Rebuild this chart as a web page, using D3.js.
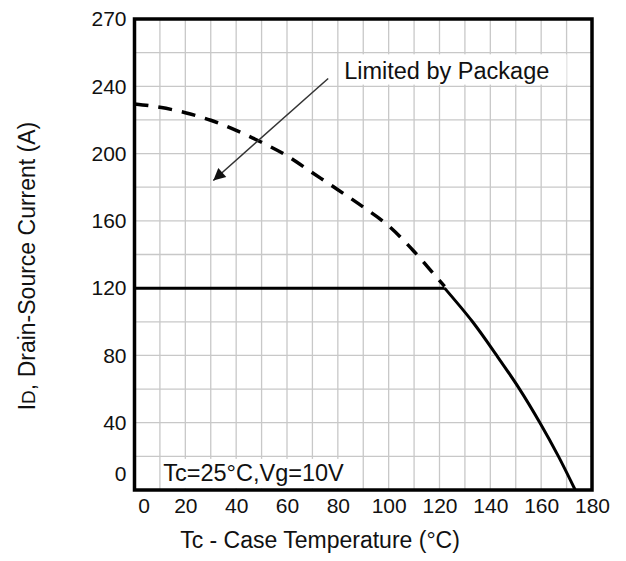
<!DOCTYPE html>
<html>
<head>
<meta charset="utf-8">
<script src="https://cdn.jsdelivr.net/npm/d3@7"></script>
<style>
  body { margin: 0; background: #fff; }
  text { font-family: "Liberation Sans", Arial, sans-serif; fill: #111; }
</style>
</head>
<body>
<svg id="chart"></svg>
<script>
// axis ticks
const xTicks = [0, 20, 40, 60, 80, 100, 120, 140, 160, 180]
const yTicks = [0, 40, 80, 120, 160, 200, 240, 280]
const yTickLabels = ['0', '40', '80', '120', '160', '200', '240', '270']

// package limit (dashed)
const pkgTemp = [0, 10, 20, 30, 40, 50, 60, 70, 80, 90, 100, 110, 116, 122]
const pkgCurrent = [229.5, 227.5, 224.3, 219.8, 213.8, 206.7, 198.7, 188.6, 178.5, 168.2, 157, 141.8, 131.5, 121]

// flat limit + derating (solid)
const flatTemp = [0, 122]
const flatCurrent = [120, 120]
const derateTemp = [122, 133, 142.5, 151.5, 159.5, 166.8, 173.4]
const derateCurrent = [120, 100, 80, 60, 40, 20, 0]

const W = 626, H = 561

const svg = d3.select('#chart')
    .attr('width', W)
    .attr('height', H)

const x = d3.scaleLinear().domain([0, 180]).range([134.5, 592])
const y = d3.scaleLinear().domain([0, 280]).range([490, 19])

// grid
svg.append('g')
    .selectAll('line')
    .data(d3.range(10, 180, 10))
    .join('line')
    .attr('x1', d => x(d)).attr('x2', d => x(d))
    .attr('y1', y(0)).attr('y2', y(280))
    .attr('stroke', '#c8c8c8').attr('stroke-width', 1.3)

svg.append('g')
    .selectAll('line')
    .data(d3.range(20, 280, 20))
    .join('line')
    .attr('x1', x(0)).attr('x2', x(180))
    .attr('y1', d => y(d)).attr('y2', d => y(d))
    .attr('stroke', '#c8c8c8').attr('stroke-width', 1.3)

// white boxes behind the notes
svg.append('rect')
    .attr('x', x(81.5)).attr('y', y(259)).attr('width', x(170) - x(81.5)).attr('height', y(241) - y(259))
    .attr('fill', '#fff')
svg.append('rect')
    .attr('x', x(11)).attr('y', y(18.5)).attr('width', x(89) - x(11)).attr('height', y(1) - y(18.5))
    .attr('fill', '#fff')

const line = d3.line()
    .x(d => x(d[0]))
    .y(d => y(d[1]))

svg.append('path')
    .datum(d3.zip(pkgTemp, pkgCurrent))
    .attr('d', line.curve(d3.curveMonotoneX))
    .attr('fill', 'none')
    .attr('stroke', '#000')
    .attr('stroke-width', 3.5)
    .attr('stroke-dasharray', '14,10')

svg.append('path')
    .datum(d3.zip(flatTemp, flatCurrent))
    .attr('d', line.curve(d3.curveLinear))
    .attr('fill', 'none')
    .attr('stroke', '#000')
    .attr('stroke-width', 3)

svg.append('path')
    .datum(d3.zip(derateTemp, derateCurrent))
    .attr('d', line.curve(d3.curveCatmullRom))
    .attr('fill', 'none')
    .attr('stroke', '#000')
    .attr('stroke-width', 3)

// frame
svg.append('rect')
    .attr('x', x(0)).attr('y', y(280))
    .attr('width', x(180) - x(0)).attr('height', y(0) - y(280))
    .attr('fill', 'none').attr('stroke', '#000').attr('stroke-width', 3.5)

// axes
const xAxis = d3.axisBottom(x).tickValues(xTicks).tickSize(0).tickPadding(8)
const gx = svg.append('g')
    .attr('transform', `translate(0,${y(0)})`)
    .call(xAxis)
gx.select('.domain').remove()
gx.selectAll('text').attr('font-size', 21).attr('font-family', null).attr('fill', '#222')
gx.selectAll('.tick').filter(d => d === 0).select('text').attr('dx', 9)

const yAxis = d3.axisLeft(y).tickValues(yTicks).tickSize(0).tickPadding(8)
    .tickFormat((d, i) => yTickLabels[i])
const gy = svg.append('g')
    .attr('transform', `translate(${x(0)},0)`)
    .call(yAxis)
gy.select('.domain').remove()
gy.selectAll('text').attr('font-size', 21).attr('font-family', null).attr('fill', '#222')
gy.selectAll('.tick').filter(d => d === 0).select('text').attr('dy', '-0.45em')

// annotation
const defs = svg.append('defs')
defs.append('marker')
    .attr('id', 'arrow')
    .attr('viewBox', '0 0 10 10')
    .attr('refX', 10).attr('refY', 5)
    .attr('markerWidth', 9).attr('markerHeight', 8)
    .attr('orient', 'auto')
    .append('path')
    .attr('d', 'M0,0 L10,5 L0,10 Z')
    .attr('fill', '#111')

svg.append('line')
    .attr('x1', x(76.2)).attr('y1', y(244.6))
    .attr('x2', x(31)).attr('y2', y(184))
    .attr('stroke', '#333').attr('stroke-width', 1.5)
    .attr('marker-end', 'url(#arrow)')

svg.append('text')
    .attr('x', x(82.5)).attr('y', y(244.5))
    .attr('font-size', 23.5)
    .text('Limited by Package')

svg.append('text')
    .attr('x', x(11.3)).attr('y', y(5.5))
    .attr('font-size', 23.5)
    .text('Tc=25°C,Vg=10V')

// titles
svg.append('text')
    .attr('x', 320).attr('y', 548)
    .attr('text-anchor', 'middle')
    .attr('font-size', 23)
    .text('Tc - Case Temperature (°C)')

const yt = svg.append('text')
    .attr('transform', 'translate(35,266) rotate(-90)')
    .attr('text-anchor', 'middle')
    .attr('font-size', 23)
yt.append('tspan').text('I')
yt.append('tspan').attr('font-size', 19).text('D')
yt.append('tspan').text(', Drain-Source Current (A)')
</script>
</body>
</html>
